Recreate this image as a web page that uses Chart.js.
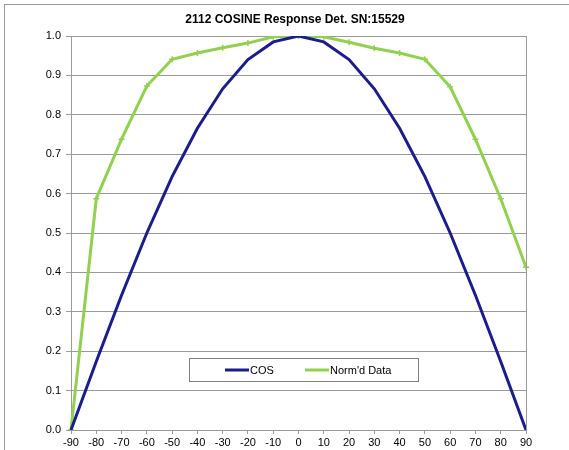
<!DOCTYPE html>
<html>
<head>
<meta charset="utf-8">
<script src="https://cdn.jsdelivr.net/npm/chart.js@4"></script>
<style>
  html, body { margin: 0; padding: 0; background: #fff; }
  #wrap { width: 569px; height: 450px; }
</style>
</head>
<body>
<div id="wrap"><canvas id="graphe"></canvas></div>
<script>
// données du graphique
const angles = [-90, -80, -70, -60, -50, -40, -30, -20, -10, 0, 10, 20, 30, 40, 50, 60, 70, 80, 90];
const cosValues = [0, 0.174, 0.342, 0.5, 0.643, 0.766, 0.866, 0.94, 0.985, 1, 0.985, 0.94, 0.866, 0.766, 0.643, 0.5, 0.342, 0.174, 0];
const normValues = [0, 0.587, 0.738, 0.873, 0.941, 0.957, 0.97, 0.982, 0.998, 1, 0.998, 0.984, 0.969, 0.957, 0.941, 0.871, 0.738, 0.587, 0.413];
const yTicks = [0, 0.1, 0.2, 0.3, 0.4, 0.5, 0.6, 0.7, 0.8, 0.9, 1.0];
const titre = '2112 COSINE Response Det. SN:15529';

const GRIS = '#9a9a9a';
const FONT = "'Liberation Sans', Arial, sans-serif";

// cadre extérieur, titre, bord droit de la zone de tracé et légende dans le graphique
const decor = {
  id: 'decor',
  beforeDraw(chart) {
    const ctx = chart.ctx;
    ctx.save();
    ctx.strokeStyle = GRIS;
    ctx.lineWidth = 1;
    ctx.strokeRect(4.5, 4.5, 700, 600);
    // titre (centré comme dans l'original, pas sur la zone de tracé)
    ctx.fillStyle = '#000';
    ctx.font = 'bold 12px ' + FONT;
    ctx.textAlign = 'center';
    ctx.textBaseline = 'middle';
    ctx.fillText(titre, 295, 20);
    ctx.restore();
  },
  afterDatasetsDraw(chart) {
    const ctx = chart.ctx;
    const a = chart.chartArea;
    ctx.save();
    ctx.strokeStyle = GRIS;
    ctx.lineWidth = 1;
    ctx.beginPath();
    ctx.moveTo(Math.round(a.right) + 0.5, a.top);
    ctx.lineTo(Math.round(a.right) + 0.5, a.bottom);
    ctx.stroke();

    // légende
    const bx = 189.5, by = 358.5, bw = 229, bh = 23;
    ctx.fillStyle = '#fff';
    ctx.fillRect(bx, by, bw, bh);
    ctx.strokeStyle = '#808080';
    ctx.strokeRect(bx, by, bw, bh);
    const cy = by + bh / 2;
    const items = [{ x: 225 }, { x: 305 }];
    chart.data.datasets.forEach((ds, i) => {
      const x0 = items[i].x;
      ctx.strokeStyle = ds.borderColor;
      ctx.lineWidth = 3;
      ctx.beginPath();
      ctx.moveTo(x0, cy);
      ctx.lineTo(x0 + 24, cy);
      ctx.stroke();
      ctx.fillStyle = '#000';
      ctx.font = '11px ' + FONT;
      ctx.textBaseline = 'middle';
      ctx.textAlign = 'left';
      ctx.fillText(ds.label, x0 + 25, cy + 1);
    });
    ctx.restore();
  }
};

new Chart(document.getElementById('graphe').getContext('2d'), {
  type: 'line',
  data: {
    labels: angles,
    datasets: [
      {
        label: 'COS',
        data: cosValues,
        borderColor: '#1c1c8c',
        borderWidth: 3,
        pointRadius: 0,
        tension: 0
      },
      {
        label: "Norm'd Data",
        data: normValues,
        borderColor: '#92d050',
        backgroundColor: '#92d050',
        borderWidth: 3,
        pointStyle: 'cross',
        pointRadius: 3,
        pointBorderWidth: 1.5,
        tension: 0
      }
    ]
  },
  options: {
    responsive: true,
    maintainAspectRatio: false,
    animation: false,
    layout: { padding: { left: 0, right: 43, top: 36, bottom: 0 } },
    plugins: {
      legend: { display: false },
      tooltip: { enabled: false },
      title: { display: false }
    },
    scales: {
      x: {
        type: 'category',
        offset: false,
        afterFit: (s) => { s.height = 20; },
        grid: { drawOnChartArea: false, drawTicks: true, tickLength: 4, color: GRIS },
        border: { color: GRIS },
        ticks: { color: '#000', padding: 2, maxRotation: 0, autoSkip: false, font: { family: FONT, size: 11 } }
      },
      y: {
        min: 0,
        max: 1,
        afterFit: (s) => { s.width = 71; },
        afterBuildTicks: (s) => { s.ticks = yTicks.map(v => ({ value: v })); },
        grid: { color: GRIS, tickLength: 5 },
        border: { color: GRIS },
        ticks: {
          color: '#000',
          padding: 5,
          font: { family: FONT, size: 11 },
          callback: (v) => Number(v).toFixed(1)
        }
      }
    }
  },
  plugins: [decor]
});
</script>
</body>
</html>
